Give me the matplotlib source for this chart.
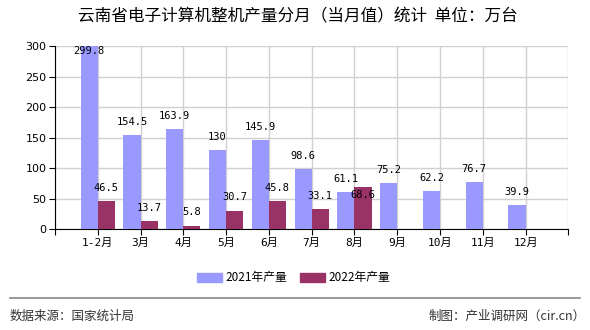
import matplotlib
matplotlib.use("Agg")
import matplotlib.pyplot as plt
from matplotlib.patches import Rectangle
import numpy as np

plt.rcParams['font.family'] = ['Noto Sans CJK SC', 'DejaVu Sans']

title = "云南省电子计算机整机产量分月（当月值）统计  单位：万台"
categories = ["1-2月", "3月", "4月", "5月", "6月", "7月", "8月", "9月", "10月", "11月", "12月"]
series_names = ["2021年产量", "2022年产量"]
values_2021 = [299.8, 154.5, 163.9, 130, 145.9, 98.6, 61.1, 75.2, 62.2, 76.7, 39.9]
values_2022 = [46.5, 13.7, 5.8, 30.7, 45.8, 33.1, 68.6, None, None, None, None]
yticks = [0, 50, 100, 150, 200, 250, 300]
source_text = "数据来源：国家统计局"
credit_text = "制图：产业调研网（cir.cn）"

c2021 = "#9999FF"
c2022 = "#993366"

W, H = 590, 330
fig = plt.figure(figsize=(W / 100, H / 100), dpi=100)
ax = fig.add_axes([55 / W, 1 - 229.3 / H, (568.3 - 55) / W, (229.3 - 46) / H])

x = np.arange(1, len(categories) + 1)
bw = 0.4
ax.bar(x - bw / 2, values_2021, width=bw, color=c2021, zorder=3)
v22 = [v if v is not None else 0 for v in values_2022]
mask = [v is not None for v in values_2022]
ax.bar((x + bw / 2)[mask], np.array(v22)[mask], width=bw, color=c2022, zorder=3)

ax.set_xlim(0, 12)
ax.set_ylim(0, 300)
ax.set_xticks(np.arange(0, len(categories) + 2))
ax.set_xticklabels([""] + categories + [""], fontsize=8,
                   family=['DejaVu Sans Mono', 'Noto Sans CJK SC'])
ax.set_yticks(yticks)
ax.set_yticklabels([str(t) for t in yticks], fontsize=8, family='DejaVu Sans')

ax.grid(True, color="#d0d0d0", linewidth=1, zorder=0)
for s in ['top', 'right']:
    ax.spines[s].set_visible(False)
ax.spines['left'].set_color('#000000')
ax.spines['bottom'].set_color('#000000')
ax.tick_params(axis='both', length=4, color='#000000', labelcolor='#000000', pad=2)

def lab(xp, v, inside=False):
    if v is None:
        return
    txt = f"{v:g}"
    if v > 285:
        ax.text(xp, 300, txt, ha='center', va='top', fontsize=7.5,
                family='DejaVu Sans Mono', zorder=5)
    elif inside:
        ax.annotate(txt, (xp, v), xytext=(0, -2), textcoords='offset points',
                    ha='center', va='top', fontsize=7.5,
                    family='DejaVu Sans Mono', zorder=5)
    else:
        ax.annotate(txt, (xp, v), xytext=(0, 6), textcoords='offset points',
                    ha='center', va='bottom', fontsize=7.5,
                    family='DejaVu Sans Mono', zorder=5)

for i in range(len(categories)):
    a, b = values_2021[i], values_2022[i]
    lab(x[i] - bw / 2, a)
    clash = b is not None and abs(b - a) < 15
    lab(x[i] + bw / 2, b, inside=clash)

fig.text(298 / W, 1 - 17 / H, title, ha='center', va='center', fontsize=12)

# legend
ly = 1 - 277 / H
fig.patches.append(Rectangle((197 / W, ly - 4.5 / H), 25 / W, 9 / H, color=c2021,
                             transform=fig.transFigure, figure=fig))
fig.text(225 / W, ly, series_names[0], ha='left', va='center', fontsize=8.5)
fig.patches.append(Rectangle((300 / W, ly - 4.5 / H), 25 / W, 9 / H, color=c2022,
                             transform=fig.transFigure, figure=fig))
fig.text(328 / W, ly, series_names[1], ha='left', va='center', fontsize=8.5)

fig.add_artist(plt.Line2D([10 / W, 580 / W], [1 - 298 / H, 1 - 298 / H],
                          color='#888888', linewidth=1.2, transform=fig.transFigure))
fig.text(10 / W, 1 - 316 / H, source_text, ha='left', va='center', fontsize=9, color='#333333')
fig.text(586 / W, 1 - 316 / H, credit_text, ha='right', va='center', fontsize=9, color='#333333')

fig.savefig("out.png", dpi=100)
